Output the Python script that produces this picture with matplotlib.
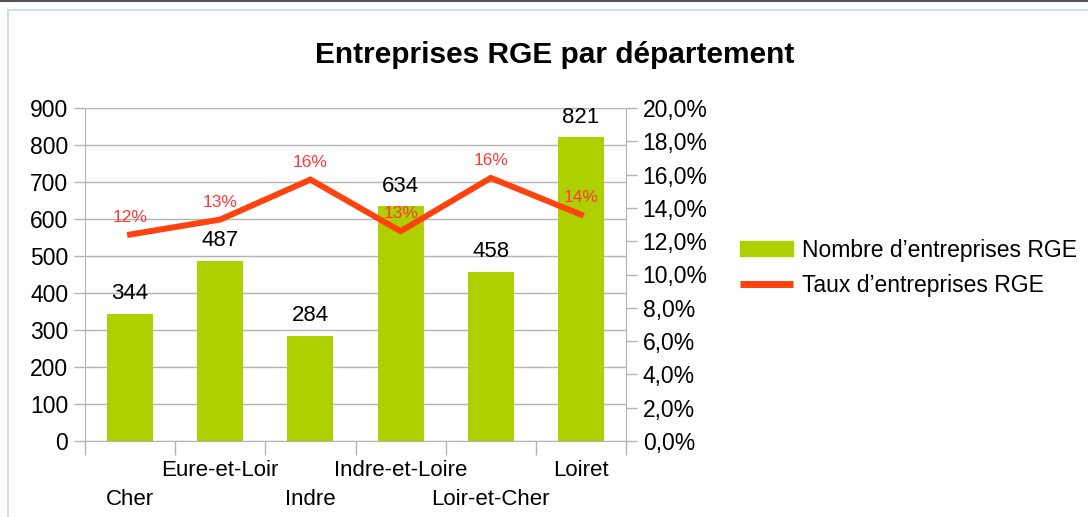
import matplotlib
matplotlib.use('Agg')
import matplotlib.pyplot as plt
from matplotlib.patches import Rectangle
from matplotlib.lines import Line2D
from matplotlib.transforms import blended_transform_factory

plt.rcParams['font.family'] = ['Liberation Sans', 'DejaVu Sans']

# data
departements = ['Cher', 'Eure-et-Loir', 'Indre', 'Indre-et-Loire', 'Loir-et-Cher', 'Loiret']
nb_rge = [344, 487, 284, 634, 458, 821]
taux_rge = [12.4, 13.3, 15.7, 12.6, 15.8, 13.6]

GREEN = '#aecf00'
ORANGE = '#ff420e'
GREY = '#b3b3b3'

fig = plt.figure(figsize=(10.88, 5.17), dpi=100)
# outer frame of the chart object
fig.add_artist(Rectangle((8 / 1088, -0.01), 1.1, 1 - 10 / 517 + 0.01, transform=fig.transFigure,
                         fill=False, edgecolor='#c5d5e8', linewidth=1.2))
fig.add_artist(Line2D([0, 1], [1 - 1 / 517, 1 - 1 / 517], transform=fig.transFigure,
                      color='#555555', linewidth=1.5))

ax = fig.add_axes([85 / 1088, 76 / 517, 541 / 1088, 333 / 517])
x = list(range(len(departements)))

ax.bar(x, nb_rge, width=0.51, color=GREEN, zorder=2)
ax.set_xlim(-0.5, len(departements) - 0.5)
ax.set_ylim(0, 900)
ax.set_yticks(range(0, 901, 100))
ax.yaxis.grid(True, color=GREY, linewidth=1)
ax.set_axisbelow(True)

for xi, v in zip(x, nb_rge):
    ax.annotate(str(v), (xi, v), xytext=(0, 7), textcoords='offset points',
                ha='center', va='bottom', fontsize=16, color='black', zorder=3)

# staggered category labels (two rows), tick marks at category boundaries
ax.set_xticks(x)
ax.set_xticklabels([])
ax.tick_params(axis='x', length=0)
ax.set_xticks([i - 0.5 for i in range(len(departements) + 1)], minor=True)
ax.tick_params(axis='x', which='minor', length=10, color=GREY, width=1)
trans = blended_transform_factory(ax.transData, ax.transAxes)
for i, d in enumerate(departements):
    yrow = -0.177 if i % 2 == 0 else -0.090
    ax.text(i, yrow, d, transform=trans, ha='center', va='center', fontsize=16)

ax.tick_params(axis='y', length=8, color=GREY, width=1, labelsize=16.5, pad=4)

for side in ['top', 'right']:
    ax.spines[side].set_visible(False)
for side in ['left', 'bottom']:
    ax.spines[side].set_color(GREY)

ax2 = ax.twinx()
ax2.plot(x, taux_rge, color=ORANGE, linewidth=4.3, zorder=4, solid_joinstyle='miter')
ax2.set_ylim(0, 20)
ax2.set_yticks(range(0, 21, 2))
ax2.set_yticklabels(['%d,0%%' % t for t in range(0, 21, 2)])
ax2.tick_params(axis='y', length=8, color=GREY, width=1, labelsize=16.5, pad=4)
for side in ['top', 'left', 'bottom']:
    ax2.spines[side].set_visible(False)
ax2.spines['right'].set_color(GREY)

for xi, t in zip(x, taux_rge):
    ax2.annotate('%d%%' % round(t), (xi, t), xytext=(0, 7), textcoords='offset points',
                 ha='center', va='bottom', fontsize=12.5, color='#ff3838', zorder=5)

fig.text(555 / 1088, 1 - 55 / 517, 'Entreprises RGE par département', ha='center', va='center',
         fontsize=21.5, fontweight='bold')

# legend
handles = [Rectangle((0, 0), 1, 1, color=GREEN),
           Line2D([], [], color=ORANGE, linewidth=5, solid_capstyle='butt')]
fig.legend(handles, ['Nombre d’entreprises RGE', 'Taux d’entreprises RGE'],
           loc='center left', bbox_to_anchor=(740 / 1088, 1 - 268 / 517), frameon=False,
           fontsize=16.5, handlelength=2.3, handleheight=0.65, handletextpad=0.4,
           labelspacing=0.55, borderpad=0, borderaxespad=0)

fig.savefig('out.png', dpi=100)
